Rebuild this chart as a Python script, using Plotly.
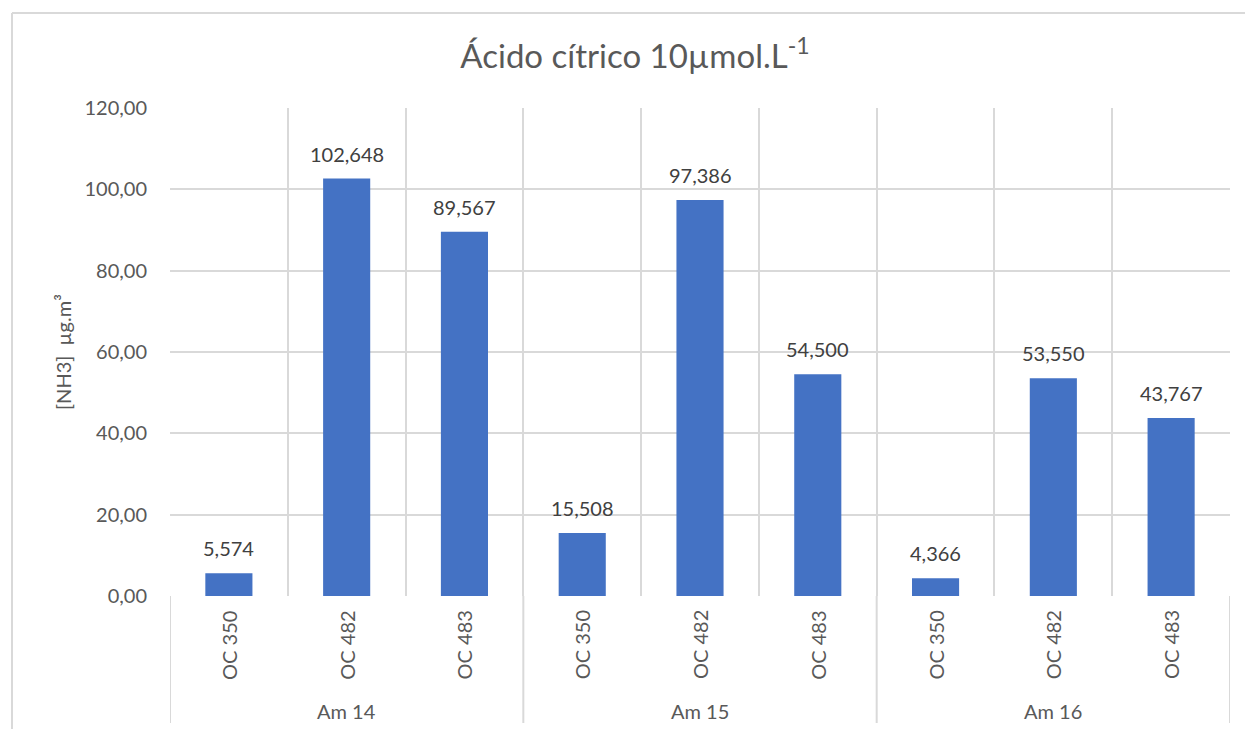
import plotly.graph_objects as go

# Column chart: NH3 concentration per sample group and culture
groups = ["Am 14", "Am 15", "Am 16"]
cultures = ["OC 350", "OC 482", "OC 483"]
nh3_values = [5.574, 102.648, 89.567,
              15.508, 97.386, 54.500,
              4.366, 53.550, 43.767]
y_ticks = [0, 20, 40, 60, 80, 100, 120]

FONT = "Lato"
TEXT = "#595959"
LABEL = "#404040"
GRID = "#D9D9D9"
BAR = "#4472C4"
FS = 20

W, H = 1245, 729
L, R, T, B = 170, 15, 108, 133
plot_w = W - L - R
plot_h = H - T - B


def px_x(px):
    return (px - L) / plot_w


def px_y(py):
    return (H - B - py) / plot_h


n = len(nh3_values)
xs = list(range(n))
cat_labels = [c for _ in groups for c in cultures]

fig = go.Figure()
fig.add_trace(go.Bar(
    x=xs, y=nh3_values, width=0.4,
    marker=dict(color=BAR, line=dict(width=0)),
    hoverinfo="skip",
))

annotations = []
# value labels above each bar
for x, v in zip(xs, nh3_values):
    annotations.append(dict(
        x=x, y=v, xref="x", yref="y", text=f"{v:.3f}".replace(".", ","),
        showarrow=False, yanchor="bottom", yshift=11,
        font=dict(family=FONT, size=FS, color=LABEL),
    ))
# rotated culture labels
for x, lab in zip(xs, cat_labels):
    annotations.append(dict(
        x=x, y=px_y(645), xref="x", yref="paper", text=lab, textangle=-90,
        showarrow=False, xanchor="center", yanchor="middle",
        font=dict(family=FONT, size=FS, color=TEXT),
    ))
# group labels
k = len(cultures)
for g, name in enumerate(groups):
    annotations.append(dict(
        x=g * k + (k - 1) / 2, y=px_y(711), xref="x", yref="paper", text=name,
        showarrow=False, xanchor="center", yanchor="middle",
        font=dict(family=FONT, size=FS, color=TEXT),
    ))
# y-axis title
annotations.append(dict(
    x=px_x(63), y=px_y(352), xref="paper", yref="paper",
    text="[NH3]  µg.m³", textangle=-90, showarrow=False,
    xanchor="center", yanchor="middle",
    font=dict(family=FONT, size=FS, color=TEXT),
))

shapes = []
# group separators running below the axis
for g in range(len(groups) + 1):
    xb = g * k - 0.5
    shapes.append(dict(
        type="line", xref="x", yref="paper", x0=xb, x1=xb,
        y0=0, y1=px_y(723), line=dict(color=GRID, width=2),
    ))
# chart border (left and top edges)
shapes.append(dict(
    type="line", xref="paper", yref="paper",
    x0=px_x(12), x1=px_x(1260), y0=px_y(13), y1=px_y(13),
    line=dict(color=GRID, width=2),
))
shapes.append(dict(
    type="line", xref="paper", yref="paper",
    x0=px_x(12), x1=px_x(12), y0=px_y(13), y1=px_y(740),
    line=dict(color=GRID, width=2),
))

fig.update_layout(
    width=W, height=H,
    margin=dict(l=L, r=R, t=T, b=B, pad=0),
    paper_bgcolor="white", plot_bgcolor="white",
    separators=",.",
    showlegend=False,
    bargap=0.6,
    title=dict(
        text="Ácido cítrico 10µmol.L<sup>-1</sup>",
        x=635 / W, xanchor="center", xref="container",
        y=1 - 56 / H, yanchor="middle", yref="container",
        font=dict(family=FONT, size=33, color=TEXT),
    ),
    xaxis=dict(
        range=[-0.5, n - 0.5],
        tickvals=[i - 0.5 for i in range(n + 1)],
        showticklabels=False, ticks="",
        showgrid=True, gridcolor=GRID, gridwidth=2,
        zeroline=False, showline=False,
        fixedrange=True,
    ),
    yaxis=dict(
        range=[0, 120],
        tickvals=y_ticks, tickformat=".2f",
        showgrid=True, gridcolor=GRID, gridwidth=2,
        zeroline=False, showline=False, ticks="",
        ticklabelstandoff=22,
        tickfont=dict(family=FONT, size=FS, color=TEXT),
        fixedrange=True,
    ),
    annotations=annotations,
    shapes=shapes,
)

fig.write_html("out.html")
